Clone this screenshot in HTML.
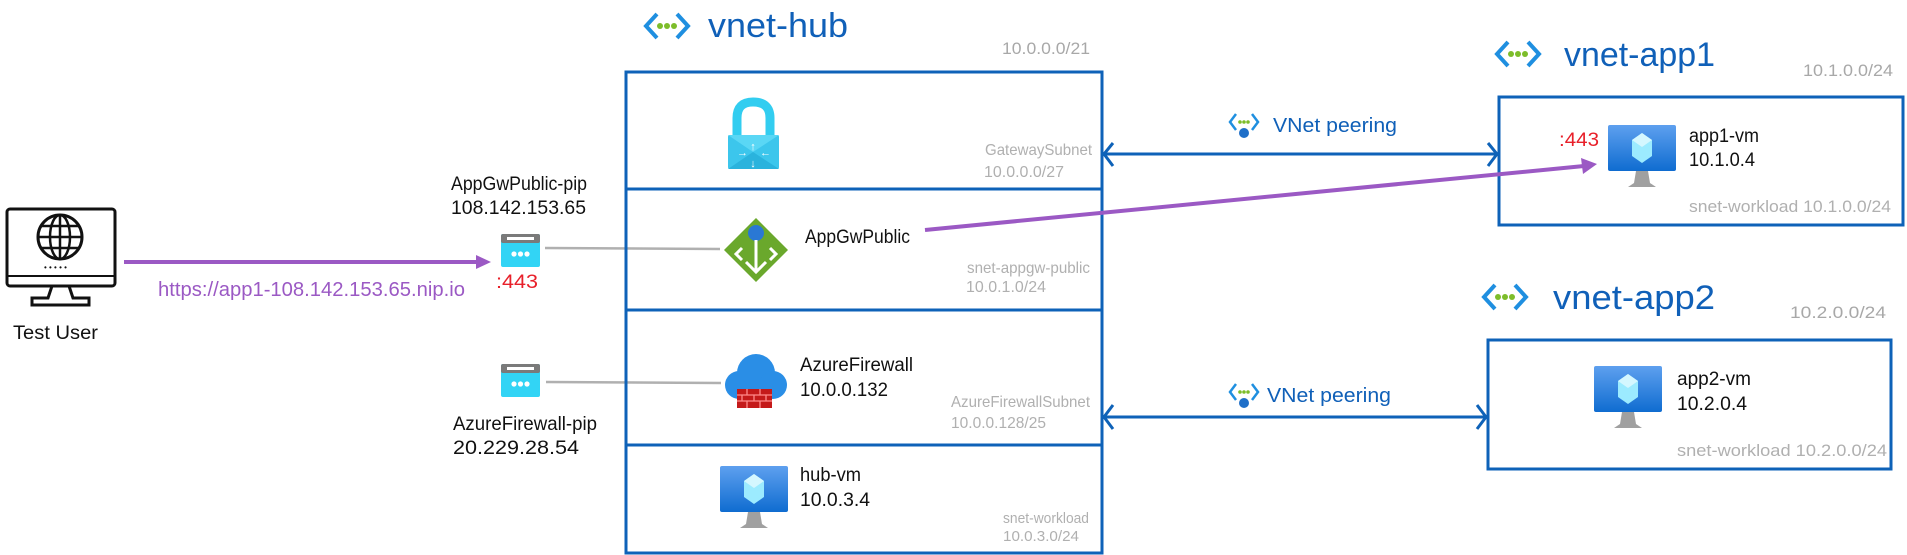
<!DOCTYPE html>
<html><head><meta charset="utf-8"><style>
html,body{margin:0;padding:0;background:#fff;width:1907px;height:555px;overflow:hidden}
svg text{font-family:"Liberation Sans Narrow","Liberation Sans",sans-serif}
</style></head><body>
<svg width="1907" height="555" viewBox="0 0 1907 555" xmlns="http://www.w3.org/2000/svg">
<defs>
<linearGradient id="vm" x1="0" y1="0" x2="0" y2="1"><stop offset="0" stop-color="#5ea0ef"/><stop offset="1" stop-color="#0f6cd0"/></linearGradient>
<g id="vmicon">
 <rect x="0" y="0" width="68" height="46" rx="2" fill="url(#vm)"/>
 <polygon points="34,8 44,15 44,31 34,38 24,31 24,15" fill="#9cebff"/>
 <polygon points="34,8 44,15 34,22 24,15" fill="#d4f7ff"/>
 <path d="M28 46 L40 46 L42 58 L48 62 L20 62 L26 58 Z" fill="#a0a0a0"/>
</g>
<g id="pip">
 <rect x="0" y="0" width="39" height="33" rx="2" fill="#32d4f5"/>
 <rect x="0" y="0" width="39" height="9" rx="2" fill="#7a7a7a"/>
 <rect x="6" y="3" width="27" height="3" fill="#fff"/>
 <circle cx="13" cy="20" r="2.6" fill="#fff"/><circle cx="19.5" cy="20" r="2.6" fill="#fff"/><circle cx="26" cy="20" r="2.6" fill="#fff"/>
</g>
<g id="vnet">
 <path d="M14 2 L3 14 L14 26" fill="none" stroke="#1f8fe0" stroke-width="4"/>
 <path d="M34 2 L45 14 L34 26" fill="none" stroke="#1f8fe0" stroke-width="4"/>
 <circle cx="17" cy="14" r="3" fill="#7dbd2a"/><circle cx="24" cy="14" r="3" fill="#7dbd2a"/><circle cx="31" cy="14" r="3" fill="#7dbd2a"/>
</g>
<g id="peer">
 <path d="M7 1 L1 9 L7 17" fill="none" stroke="#1f8fe0" stroke-width="2.5"/>
 <path d="M23 1 L29 9 L23 17" fill="none" stroke="#1f8fe0" stroke-width="2.5"/>
 <circle cx="11" cy="9" r="1.8" fill="#7dbd2a"/><circle cx="15" cy="9" r="1.8" fill="#7dbd2a"/><circle cx="19" cy="9" r="1.8" fill="#7dbd2a"/>
 <circle cx="15" cy="20" r="5" fill="#1f6fc8"/>
</g>
</defs>

<!-- Test user -->
<rect x="7" y="209" width="108" height="77" rx="3" fill="#fff" stroke="#111" stroke-width="3"/>
<line x1="7" y1="276" x2="115" y2="276" stroke="#111" stroke-width="2"/>
<circle cx="60" cy="237" r="22" fill="none" stroke="#111" stroke-width="3"/>
<ellipse cx="60" cy="237" rx="10" ry="22" fill="none" stroke="#111" stroke-width="2.5"/>
<line x1="38" y1="237" x2="82" y2="237" stroke="#111" stroke-width="2.5"/>
<line x1="41" y1="226" x2="79" y2="226" stroke="#111" stroke-width="2.5"/>
<line x1="41" y1="248" x2="79" y2="248" stroke="#111" stroke-width="2.5"/>
<line x1="60" y1="215" x2="60" y2="259" stroke="#111" stroke-width="2.5"/>
<text x="44" y="270" font-size="8" fill="#111">• • • • •</text>
<path d="M52 286 L48 298 L32 298 L32 305 L89 305 L89 298 L73 298 L69 286" fill="none" stroke="#111" stroke-width="3"/>
<text x="13" y="339" font-size="19" fill="#111" textLength="85" lengthAdjust="spacingAndGlyphs">Test User</text>

<!-- purple arrow 1 -->
<line x1="124" y1="262" x2="478" y2="262" stroke="#9b59c4" stroke-width="4"/>
<polygon points="476,255 491,262 476,269" fill="#9b59c4"/>
<text x="158" y="296" font-size="20" fill="#9b59c4" textLength="307" lengthAdjust="spacingAndGlyphs">https://app1-108.142.153.65.nip.io</text>

<!-- PIPs -->
<use href="#pip" x="501" y="234"/>
<text x="451" y="190" font-size="19" fill="#111" textLength="136" lengthAdjust="spacingAndGlyphs">AppGwPublic-pip</text>
<text x="451" y="214" font-size="19" fill="#111" textLength="135" lengthAdjust="spacingAndGlyphs">108.142.153.65</text>
<text x="496" y="288" font-size="19" fill="#e8202a" textLength="42" lengthAdjust="spacingAndGlyphs">:443</text>
<line x1="545" y1="248" x2="720" y2="249" stroke="#b0b0b0" stroke-width="2.5"/>

<use href="#pip" x="501" y="364"/>
<line x1="546" y1="382" x2="721" y2="383" stroke="#b0b0b0" stroke-width="2.5"/>
<text x="453" y="430" font-size="19" fill="#111" textLength="144" lengthAdjust="spacingAndGlyphs">AzureFirewall-pip</text>
<text x="453" y="454" font-size="19" fill="#111" textLength="126" lengthAdjust="spacingAndGlyphs">20.229.28.54</text>

<!-- vnet-hub -->
<use href="#vnet" x="643" y="12"/>
<text x="708" y="37" font-size="34" fill="#1060b8" textLength="140" lengthAdjust="spacingAndGlyphs">vnet-hub</text>
<text x="1002" y="54" font-size="17" fill="#a8a8a8" textLength="88" lengthAdjust="spacingAndGlyphs">10.0.0.0/21</text>
<rect x="626" y="72" width="476" height="481" fill="none" stroke="#0e62b8" stroke-width="3"/>
<line x1="626" y1="189" x2="1102" y2="189" stroke="#0e62b8" stroke-width="3"/>
<line x1="626" y1="310" x2="1102" y2="310" stroke="#0e62b8" stroke-width="3"/>
<line x1="626" y1="445" x2="1102" y2="445" stroke="#0e62b8" stroke-width="3"/>

<!-- gateway icon -->
<path d="M737 140 L737 118 Q737 102 753 102 Q770 102 770 118 L770 140" fill="none" stroke="#32cdf0" stroke-width="9"/>
<rect x="728" y="135" width="51" height="34" rx="2" fill="#3cc6ec"/>
<polygon points="728,135 779,135 753,152" fill="#5ad7f5"/>
<polygon points="728,169 779,169 753,152" fill="#2ab3dd"/>
<text x="753" y="150" font-size="11" fill="#fff" text-anchor="middle">↑</text>
<text x="753" y="167" font-size="11" fill="#fff" text-anchor="middle">↓</text>
<text x="737" y="156" font-size="11" fill="#fff">→</text>
<text x="760" y="156" font-size="11" fill="#fff">←</text>
<text x="985" y="155" font-size="16" fill="#b0b0b0" textLength="107" lengthAdjust="spacingAndGlyphs">GatewaySubnet</text>
<text x="984" y="177" font-size="16" fill="#b0b0b0" textLength="80" lengthAdjust="spacingAndGlyphs">10.0.0.0/27</text>

<!-- appgw -->
<polygon points="756,218 788,250 756,282 724,250" fill="#6aa82c"/>
<circle cx="756" cy="233" r="8" fill="#2a78d4"/>
<path d="M756 240 L756 272 M746 262 L756 272 L766 262 M742 248 L736 254 L742 260 M770 248 L776 254 L770 260" stroke="#fff" stroke-width="3" fill="none"/>
<text x="805" y="243" font-size="19" fill="#111" textLength="105" lengthAdjust="spacingAndGlyphs">AppGwPublic</text>
<text x="967" y="273" font-size="16" fill="#b0b0b0" textLength="123" lengthAdjust="spacingAndGlyphs">snet-appgw-public</text>
<text x="966" y="292" font-size="16" fill="#b0b0b0" textLength="80" lengthAdjust="spacingAndGlyphs">10.0.1.0/24</text>

<!-- firewall -->
<circle cx="756" cy="373" r="19" fill="#2a8ee6"/>
<circle cx="739" cy="385" r="14" fill="#2a8ee6"/>
<circle cx="773" cy="385" r="14" fill="#2a8ee6"/>
<rect x="737" y="380" width="38" height="17" fill="#2a8ee6"/>
<rect x="737" y="389" width="35" height="19" fill="#c41a1a"/>
<path d="M737 395 H772 M737 401 H772 M747 389 V395 M760 389 V395 M742 395 V401 M754 395 V401 M766 395 V401 M747 401 V408 M760 401 V408" stroke="#ff8a8a" stroke-width="1.3"/>
<text x="800" y="371" font-size="19" fill="#111" textLength="113" lengthAdjust="spacingAndGlyphs">AzureFirewall</text>
<text x="800" y="396" font-size="19" fill="#111" textLength="88" lengthAdjust="spacingAndGlyphs">10.0.0.132</text>
<text x="951" y="407" font-size="16" fill="#b0b0b0" textLength="139" lengthAdjust="spacingAndGlyphs">AzureFirewallSubnet</text>
<text x="951" y="428" font-size="16" fill="#b0b0b0" textLength="95" lengthAdjust="spacingAndGlyphs">10.0.0.128/25</text>

<!-- hub-vm -->
<use href="#vmicon" x="720" y="466"/>
<text x="800" y="481" font-size="19" fill="#111" textLength="61" lengthAdjust="spacingAndGlyphs">hub-vm</text>
<text x="800" y="506" font-size="19" fill="#111" textLength="70" lengthAdjust="spacingAndGlyphs">10.0.3.4</text>
<text x="1003" y="523" font-size="15" fill="#b0b0b0" textLength="86" lengthAdjust="spacingAndGlyphs">snet-workload</text>
<text x="1003" y="541" font-size="15" fill="#b0b0b0" textLength="76" lengthAdjust="spacingAndGlyphs">10.0.3.0/24</text>

<!-- peering 1 -->
<line x1="1104" y1="154" x2="1497" y2="154" stroke="#0e62b8" stroke-width="3"/>
<path d="M1113 143 L1104 154 L1113 166 M1488 143 L1497 154 L1488 166" fill="none" stroke="#0e62b8" stroke-width="3"/>
<use href="#peer" x="1229" y="113"/>
<text x="1273" y="132" font-size="20" fill="#1060b8" textLength="124" lengthAdjust="spacingAndGlyphs">VNet peering</text>

<!-- peering 2 -->
<line x1="1104" y1="417" x2="1486" y2="417" stroke="#0e62b8" stroke-width="3"/>
<path d="M1113 405 L1104 417 L1113 429 M1477 405 L1486 417 L1477 429" fill="none" stroke="#0e62b8" stroke-width="3"/>
<use href="#peer" x="1229" y="383"/>
<text x="1267" y="402" font-size="20" fill="#1060b8" textLength="124" lengthAdjust="spacingAndGlyphs">VNet peering</text>

<!-- vnet-app1 -->
<use href="#vnet" x="1494" y="40"/>
<text x="1564" y="66" font-size="34" fill="#1060b8" textLength="151" lengthAdjust="spacingAndGlyphs">vnet-app1</text>
<text x="1803" y="76" font-size="17" fill="#a8a8a8" textLength="90" lengthAdjust="spacingAndGlyphs">10.1.0.0/24</text>
<rect x="1499" y="97" width="404" height="128" fill="none" stroke="#0e62b8" stroke-width="3"/>
<use href="#vmicon" x="1608" y="125"/>
<text x="1559" y="146" font-size="19" fill="#e8202a" textLength="40" lengthAdjust="spacingAndGlyphs">:443</text>
<text x="1689" y="142" font-size="19" fill="#111" textLength="70" lengthAdjust="spacingAndGlyphs">app1-vm</text>
<text x="1689" y="166" font-size="19" fill="#111" textLength="66" lengthAdjust="spacingAndGlyphs">10.1.0.4</text>
<text x="1689" y="212" font-size="17" fill="#b0b0b0" textLength="202" lengthAdjust="spacingAndGlyphs">snet-workload 10.1.0.0/24</text>

<!-- vnet-app2 -->
<use href="#vnet" x="1481" y="283"/>
<text x="1553" y="309" font-size="34" fill="#1060b8" textLength="162" lengthAdjust="spacingAndGlyphs">vnet-app2</text>
<text x="1790" y="318" font-size="17" fill="#a8a8a8" textLength="146" lengthAdjust="spacingAndGlyphs" style="display:none">x</text>
<text x="1790" y="318" font-size="17" fill="#a8a8a8" textLength="96" lengthAdjust="spacingAndGlyphs">10.2.0.0/24</text>
<rect x="1488" y="340" width="403" height="129" fill="none" stroke="#0e62b8" stroke-width="3"/>
<use href="#vmicon" x="1594" y="366"/>
<text x="1677" y="385" font-size="19" fill="#111" textLength="74" lengthAdjust="spacingAndGlyphs">app2-vm</text>
<text x="1677" y="410" font-size="19" fill="#111" textLength="70" lengthAdjust="spacingAndGlyphs">10.2.0.4</text>
<text x="1677" y="456" font-size="17" fill="#b0b0b0" textLength="210" lengthAdjust="spacingAndGlyphs">snet-workload 10.2.0.0/24</text>

<!-- purple long arrow -->
<line x1="925" y1="230" x2="1584" y2="166" stroke="#9b59c4" stroke-width="4"/>
<polygon points="1581,158 1597,164 1583,174" fill="#9b59c4"/>
</svg>
</body></html>
